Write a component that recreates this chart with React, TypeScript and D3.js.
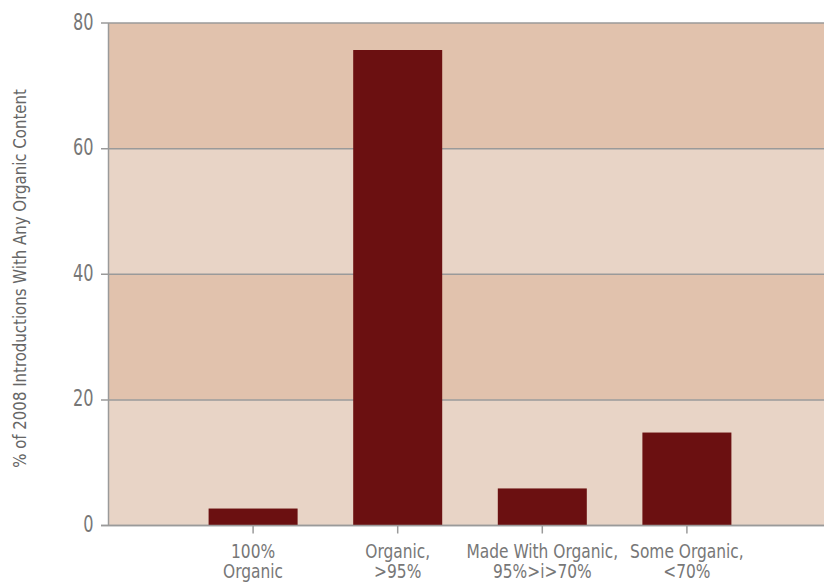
import React from "react";
import * as d3 from "d3";

const categories: string[][] = [
  ["100%", "Organic"],
  ["Organic,", ">95%"],
  ["Made With Organic,", "95%>i>70%"],
  ["Some Organic,", "<70%"],
];
const values: number[] = [2.7, 75.7, 5.9, 14.8];
const yTicks: number[] = [0, 20, 40, 60, 80];
const bands: [number, number][] = [[0, 20], [20, 40], [40, 60], [60, 80]];
const yLabel = "% of 2008 Introductions With Any Organic Content";

const W = 824, H = 584;
const left = 108.5, top = 23, bottom = 525.5;
const FONT = "'DejaVu Sans Condensed', 'Liberation Sans Narrow', sans-serif";

export default function App() {
  const x = d3.scaleLinear().domain([0, 5]).range([left, left + 5 * 144.6]);
  const y = d3.scaleLinear().domain([0, 80]).range([bottom, top]);
  const barW = 89;
  return (
    <svg width={W} height={H} style={{ position: "absolute", left: 0, top: 0 }}>
      {bands.map(([a, b], i) => (
        <rect key={i} x={left} y={y(b)} width={W - left} height={y(a) - y(b)}
          fill={i % 2 === 0 ? "#E8D4C6" : "#E1C2AD"} />
      ))}
      {yTicks.map((t) => (
        <g key={t}>
          <line x1={101} x2={W} y1={y(t)} y2={y(t)} stroke="#9a9a9a" strokeWidth={1.5} />
          <text transform={`translate(93.5,${y(t) + 6.5}) scale(0.78,1)`} textAnchor="end"
            fontFamily={FONT} fontSize={23} fill="#777">{t}</text>
        </g>
      ))}
      {values.map((v, i) => (
        <rect key={i} x={x(i + 1) - barW / 2} y={y(v)} width={barW} height={y(0) - y(v)} fill="#6B1011" />
      ))}
      <line x1={left} x2={left} y1={top} y2={bottom} stroke="#9a9a9a" strokeWidth={1.5} />
      <line x1={101} x2={W} y1={bottom} y2={bottom} stroke="#9a9a9a" strokeWidth={1.5} />
      {categories.map((c, i) => (
        <g key={i}>
          <line x1={x(i + 1)} x2={x(i + 1)} y1={bottom} y2={bottom + 8} stroke="#9a9a9a" strokeWidth={1.5} />
          {c.map((s, j) => (
            <text key={j} transform={`translate(${x(i + 1)},${558 + j * 20}) scale(0.88,1)`} textAnchor="middle"
              fontFamily={FONT} fontSize={19.5} fill="#777">{s}</text>
          ))}
        </g>
      ))}
      <text transform={`translate(20,278.5) rotate(-90) scale(0.925,1)`} dy="0.35em" textAnchor="middle"
        fontFamily={FONT} fontSize={18} fill="#666">{yLabel}</text>
    </svg>
  );
}
